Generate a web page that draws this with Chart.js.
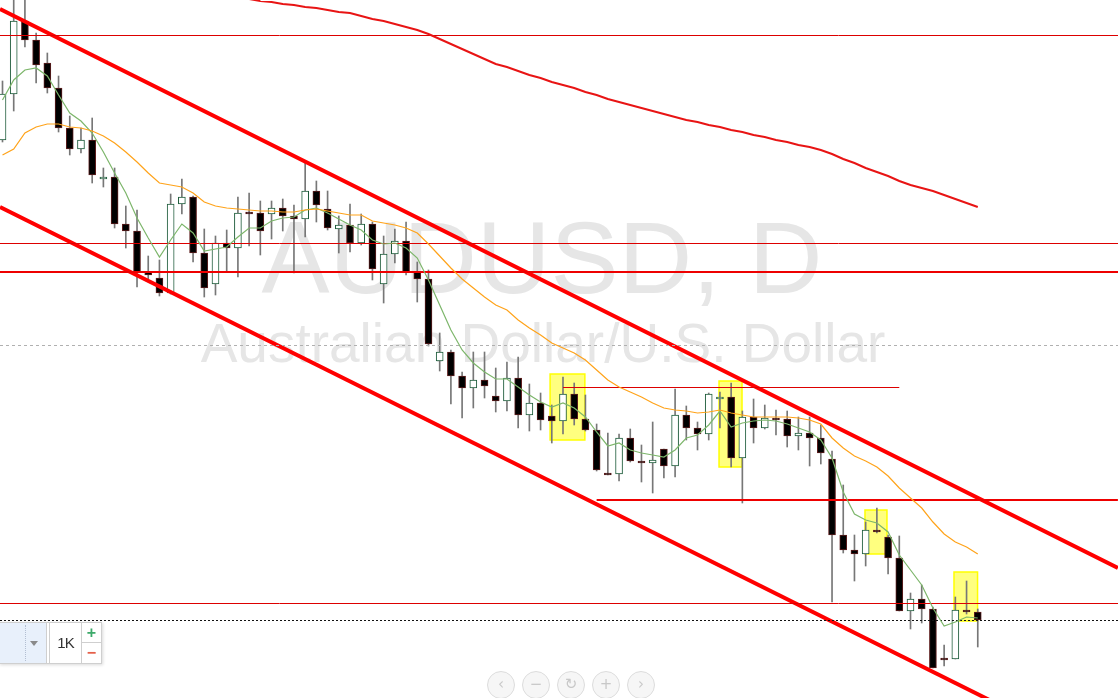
<!DOCTYPE html>
<html>
<head>
<meta charset="utf-8">
<script src="https://cdn.jsdelivr.net/npm/chart.js@4.4.1/dist/chart.umd.min.js"></script>
<style>
  html, body { margin: 0; padding: 0; background: #fff; overflow: hidden; }
  #wrap { position: relative; width: 1118px; height: 698px; overflow: hidden; }
  #box { position: absolute; left: 0; top: 0; width: 1118px; height: 698px; }
  .zoom { position: absolute; left: -1px; top: 622px; height: 40px; display: flex;
          border: 1px solid #cfcfcf; background: #fff; box-shadow: 1px 1px 3px rgba(0,0,0,0.15);
          font-family: "Liberation Sans", Arial, sans-serif; }
  .sel { width: 46px; background: #e8f0fb; border-right: 1px solid #cfcfcf; position: relative; }
  .sel .dots { position: absolute; left: 25px; top: 2px; bottom: 2px; border-left: 1px dotted #b3bfd2; }
  .sel .arrow { position: absolute; left: 30px; top: 18px; width: 0; height: 0;
                border-left: 4px solid transparent; border-right: 4px solid transparent; border-top: 5px solid #8a8a8a; }
  .k { width: 31px; margin-left: 2px; border-left: 1px solid #cfcfcf; text-align: center;
       line-height: 40px; font-size: 15px; color: #333; letter-spacing: -1px; }
  .pm { width: 19px; border-left: 1px solid #cfcfcf; }
  .pm div { height: 19px; line-height: 19px; text-align: center; font-weight: bold; font-size: 16px; }
  .pm .plus { color: #3daa6a; border-bottom: 1px solid #cfcfcf; }
  .pm .minus { color: #e5604a; }
  .nav { position: absolute; left: 487px; top: 671px; display: flex; }
  .nav span { width: 26px; height: 26px; border-radius: 50%; border: 1px solid #dcdcdc; background: #f6f6f6;
              margin-right: 7px; color: #c8c8c8; text-align: center; line-height: 25px; font-size: 15px;
              font-family: "DejaVu Sans", sans-serif; }
</style>
</head>
<body>
<div id="wrap">
  <div id="box"><canvas id="chart"></canvas></div>
  <div class="zoom">
    <div class="sel"><div class="dots"></div><div class="arrow"></div></div>
    <div class="k">1K</div>
    <div class="pm"><div class="plus">+</div><div class="minus">−</div></div>
  </div>
  <div class="nav"><span>‹</span><span>−</span><span>↻</span><span>+</span><span>›</span></div>
</div>
<script>
// AUDUSD daily candles
const openP = [
  0.7660, 0.7706, 0.7779, 0.7760, 0.7737, 0.7712, 0.7672, 0.7651, 0.7660, 0.7621,
  0.7623, 0.7576, 0.7569, 0.7528, 0.7522, 0.7507, 0.7596, 0.7603, 0.7547, 0.7516,
  0.7557, 0.7552, 0.7588, 0.7587, 0.7586, 0.7592, 0.7584, 0.7581, 0.7609, 0.7591,
  0.7571, 0.7575, 0.7557, 0.7576, 0.7516, 0.7546, 0.7559, 0.7528, 0.7521, 0.7439,
  0.7448, 0.7424, 0.7412, 0.7420, 0.7404, 0.7399, 0.7422, 0.7385, 0.7397, 0.7384,
  0.7379, 0.7406, 0.7381, 0.7370, 0.7327, 0.7326, 0.7362, 0.7339, 0.7337, 0.7351,
  0.7334, 0.7385, 0.7372, 0.7366, 0.7401, 0.7403, 0.7342, 0.7383, 0.7372, 0.7382,
  0.7381, 0.7364, 0.7367, 0.7362, 0.7341, 0.7265, 0.7250, 0.7246, 0.7270, 0.7263,
  0.7242, 0.7189, 0.7201, 0.7191, 0.7142, 0.7141, 0.7190, 0.7188
];
const highP = [
  0.7719, 0.7803, 0.7803, 0.7767, 0.7747, 0.7724, 0.7684, 0.7672, 0.7682, 0.7632,
  0.7632, 0.7594, 0.7590, 0.7544, 0.7540, 0.7606, 0.7621, 0.7604, 0.7571, 0.7564,
  0.7570, 0.7603, 0.7607, 0.7599, 0.7599, 0.7601, 0.7595, 0.7638, 0.7619, 0.7609,
  0.7584, 0.7596, 0.7586, 0.7578, 0.7564, 0.7571, 0.7578, 0.7538, 0.7530, 0.7467,
  0.7450, 0.7428, 0.7448, 0.7448, 0.7432, 0.7438, 0.7443, 0.7416, 0.7407, 0.7395,
  0.7423, 0.7417, 0.7405, 0.7376, 0.7367, 0.7366, 0.7371, 0.7355, 0.7378, 0.7351,
  0.7411, 0.7394, 0.7378, 0.7407, 0.7408, 0.7417, 0.7389, 0.7401, 0.7395, 0.7390,
  0.7389, 0.7383, 0.7383, 0.7375, 0.7349, 0.7315, 0.7265, 0.7278, 0.7292, 0.7265,
  0.7264, 0.7207, 0.7215, 0.7193, 0.7155, 0.7203, 0.7219, 0.7191
];
const lowP = [
  0.7658, 0.7689, 0.7753, 0.7717, 0.7707, 0.7668, 0.7645, 0.7647, 0.7617, 0.7613,
  0.7572, 0.7552, 0.7513, 0.7521, 0.7504, 0.7506, 0.7586, 0.7538, 0.7503, 0.7505,
  0.7529, 0.7523, 0.7554, 0.7545, 0.7561, 0.7569, 0.7527, 0.7563, 0.7578, 0.7570,
  0.7547, 0.7548, 0.7555, 0.7520, 0.7497, 0.7537, 0.7525, 0.7498, 0.7454, 0.7429,
  0.7396, 0.7382, 0.7392, 0.7402, 0.7388, 0.7389, 0.7372, 0.7369, 0.7370, 0.7357,
  0.7366, 0.7375, 0.7369, 0.7329, 0.7325, 0.7319, 0.7338, 0.7318, 0.7307, 0.7322,
  0.7323, 0.7360, 0.7350, 0.7360, 0.7372, 0.7333, 0.7297, 0.7357, 0.7371, 0.7365,
  0.7353, 0.7350, 0.7334, 0.7336, 0.7198, 0.7247, 0.7219, 0.7234, 0.7267, 0.7226,
  0.7189, 0.7171, 0.7177, 0.7132, 0.7134, 0.7141, 0.7186, 0.7153
];
const closeP = [
  0.7706, 0.7779, 0.7760, 0.7735, 0.7712, 0.7672, 0.7651, 0.7660, 0.7625, 0.7623,
  0.7576, 0.7569, 0.7528, 0.7525, 0.7507, 0.7596, 0.7603, 0.7547, 0.7512, 0.7557,
  0.7552, 0.7587, 0.7586, 0.7569, 0.7592, 0.7584, 0.7581, 0.7609, 0.7595, 0.7572,
  0.7575, 0.7557, 0.7576, 0.7531, 0.7546, 0.7559, 0.7528, 0.7521, 0.7456, 0.7448,
  0.7424, 0.7412, 0.7420, 0.7414, 0.7399, 0.7422, 0.7385, 0.7397, 0.7380, 0.7379,
  0.7406, 0.7381, 0.7370, 0.7330, 0.7325, 0.7362, 0.7339, 0.7337, 0.7340, 0.7334,
  0.7385, 0.7372, 0.7366, 0.7406, 0.7403, 0.7342, 0.7383, 0.7372, 0.7382, 0.7380,
  0.7364, 0.7367, 0.7362, 0.7347, 0.7265, 0.7250, 0.7246, 0.7270, 0.7268, 0.7242,
  0.7189, 0.7201, 0.7191, 0.7132, 0.7140, 0.7190, 0.7188, 0.7180
];

// moving averages as drawn on the chart
const fastMA = [
  0.7700, 0.7720, 0.7730, 0.7732, 0.7724, 0.7705, 0.7687, 0.7679, 0.7667, 0.7648,
  0.7627, 0.7607, 0.7582, 0.7562, 0.7543, 0.7560, 0.7576, 0.7567, 0.7549, 0.7551,
  0.7553, 0.7563, 0.7572, 0.7572, 0.7579, 0.7582, 0.7583, 0.7590, 0.7592, 0.7587,
  0.7581, 0.7575, 0.7570, 0.7560, 0.7556, 0.7557, 0.7552, 0.7542, 0.7520, 0.7495,
  0.7470, 0.7450, 0.7437, 0.7428, 0.7421, 0.7421, 0.7413, 0.7405, 0.7398, 0.7393,
  0.7397, 0.7392, 0.7383, 0.7368, 0.7354, 0.7357, 0.7350, 0.7347, 0.7345, 0.7343,
  0.7350, 0.7362, 0.7365, 0.7375, 0.7389, 0.7373, 0.7377, 0.7379, 0.7380, 0.7379,
  0.7376, 0.7372, 0.7368, 0.7360, 0.7342, 0.7308, 0.7286, 0.7280, 0.7277, 0.7268,
  0.7245, 0.7230, 0.7215, 0.7192, 0.7174, 0.7178, 0.7183, 0.7182
];
const slowMA = [
  0.7645, 0.7651, 0.7667, 0.7673, 0.7676, 0.7676, 0.7673, 0.7672, 0.7669, 0.7664,
  0.7657, 0.7648, 0.7638, 0.7627, 0.7617, 0.7615, 0.7613, 0.7607, 0.7598, 0.7594,
  0.7592, 0.7591, 0.7590, 0.7589, 0.7589, 0.7588, 0.7588, 0.7590, 0.7591, 0.7589,
  0.7587, 0.7585, 0.7585, 0.7579, 0.7577, 0.7575, 0.7572, 0.7567, 0.7556, 0.7544,
  0.7532, 0.7521, 0.7512, 0.7503, 0.7495, 0.7490, 0.7480, 0.7472, 0.7465, 0.7457,
  0.7452, 0.7447, 0.7440, 0.7430, 0.7420, 0.7413, 0.7408, 0.7403, 0.7397, 0.7392,
  0.7390, 0.7389, 0.7387, 0.7388, 0.7390, 0.7387, 0.7385, 0.7383, 0.7383, 0.7383,
  0.7383, 0.7382, 0.7380, 0.7376, 0.7362, 0.7352, 0.7344, 0.7339, 0.7333, 0.7324,
  0.7312, 0.7302, 0.7292, 0.7278, 0.7266, 0.7258, 0.7253, 0.7246
];
const longMA = [
  null, null, null, null, null, null, null, null, null, null,
  null, null, null, null, null, null, null, null, null, null,
  null, null, 0.7801, 0.7799, 0.7798, 0.7796, 0.7795, 0.7793, 0.7792, 0.7790,
  0.7788, 0.7787, 0.7784, 0.7781, 0.7779, 0.7776, 0.7773, 0.7770, 0.7766, 0.7761,
  0.7756, 0.7751, 0.7746, 0.7741, 0.7736, 0.7733, 0.7729, 0.7725, 0.7722, 0.7718,
  0.7715, 0.7712, 0.7708, 0.7705, 0.7701, 0.7698, 0.7695, 0.7692, 0.7689, 0.7686,
  0.7683, 0.7680, 0.7678, 0.7675, 0.7673, 0.7670, 0.7668, 0.7665, 0.7663, 0.7660,
  0.7658, 0.7655, 0.7653, 0.7650, 0.7646, 0.7641, 0.7637, 0.7632, 0.7628, 0.7624,
  0.7619, 0.7615, 0.7612, 0.7609, 0.7605, 0.7601, 0.7597, 0.7593
];

// drawn objects: channel, levels, highlight boxes [fromBar, toBar, top, bottom]
const upperChannel = [[-0.22, 0.7791], [99.5, 0.7232]];
const lowerChannel = [[-0.22, 0.7593], [99.5, 0.7036]];
const thinLevels = [0.77645, 0.75565, 0.71965];
const boldLevels = [0.7528];
const thinPartLevels = [[50, 80, 0.74125]];
const boldPartLevels = [[53, 99.5, 0.7300]];
const lastPrice = 0.71795;
const midLine = 0.74545;
const highlightBoxes = [
  [48.85, 51.95, 0.7426, 0.7360],
  [63.92, 65.97, 0.7419, 0.7333],
  [76.94, 78.90, 0.7290, 0.7246],
  [84.88, 86.98, 0.7228, 0.7179]
];
const symbolText = 'AUDUSD, D';
const descText = 'Australian Dollar/U.S. Dollar';

const X_MIN = -0.223, X_MAX = 99.51;
const Y_MIN = 0.7102, Y_MAX = 0.7800;

const idx = openP.map((_, i) => i);
const isUp = idx.map(i => closeP[i] > openP[i]);

function seg(a, b) {
  return [{ x: a[0], y: a[1] }, { x: b[0], y: b[1] }];
}
function lineSet(data, color, width, dash) {
  return {
    type: 'line', data, borderColor: color, borderWidth: width,
    borderDash: dash || [], pointRadius: 0, tension: 0, fill: false, order: 0,
  };
}

const levelSets = [
  lineSet(seg([X_MIN, midLine], [X_MAX, midLine]), '#b0b0b0', 1, [3, 3]),
  ...thinLevels.map(p => lineSet(seg([X_MIN, p], [X_MAX, p]), '#dd0000', 1)),
  ...boldLevels.map(p => lineSet(seg([X_MIN, p], [X_MAX, p]), '#ee0000', 2)),
  ...thinPartLevels.map(l => lineSet(seg([l[0], l[2]], [l[1], l[2]]), '#dd0000', 1)),
  ...boldPartLevels.map(l => lineSet(seg([l[0], l[2]], [l[1], l[2]]), '#ee0000', 2)),
  lineSet(seg([X_MIN, lastPrice], [X_MAX, lastPrice]), '#111', 1, [2, 2]),
];

const backdrop = {
  id: 'backdrop',
  beforeDatasetsDraw(chart) {
    const { ctx, scales: { x, y } } = chart;
    ctx.save();
    ctx.fillStyle = '#e6e6e6';
    ctx.textAlign = 'center';
    ctx.textBaseline = 'alphabetic';
    ctx.font = '102px "Liberation Sans", Arial, sans-serif';
    ctx.fillText(symbolText, 542, 293);
    ctx.font = '55px "Liberation Sans", Arial, sans-serif';
    ctx.fillText(descText, 543, 362);

    highlightBoxes.forEach(b => {
      const l = x.getPixelForValue(b[0]);
      const r = x.getPixelForValue(b[1]);
      const t = y.getPixelForValue(b[2]);
      const btm = y.getPixelForValue(b[3]);
      ctx.fillStyle = 'rgba(255, 255, 0, 0.5)';
      ctx.fillRect(l, t, r - l, btm - t);
      ctx.strokeStyle = '#ffff00';
      ctx.lineWidth = 1.5;
      ctx.strokeRect(l, t, r - l, btm - t);
    });
    ctx.restore();
  }
};

new Chart(document.getElementById('chart'), {
  type: 'bar',
  data: {
    datasets: [
      lineSet(idx.map(i => ({ x: i, y: longMA[i] })), '#e81414', 2),
      lineSet(idx.map(i => ({ x: i, y: slowMA[i] })), '#ffa31a', 1.2),
      lineSet(idx.map(i => ({ x: i, y: fastMA[i] })), '#7db66b', 1.2),
      ...levelSets,
      lineSet(seg(...upperChannel), '#ff0000', 4),
      lineSet(seg(...lowerChannel), '#ff0000', 4),
      {
        type: 'bar',
        data: idx.map(i => ({ x: i, y: [openP[i], closeP[i]] })),
        backgroundColor: isUp.map(u => u ? '#ffffff' : '#000000'),
        borderColor: isUp.map(u => u ? '#1d5b3a' : '#5c1d1d'),
        borderWidth: 1,
        borderSkipped: false,
        barThickness: 7,
        grouped: false,
        order: 2,
      },
      {
        type: 'bar',
        data: idx.map(i => ({ x: i, y: [lowP[i], highP[i]] })),
        backgroundColor: '#777777',
        barThickness: 1,
        grouped: false,
        order: 3,
      },
    ],
  },
  options: {
    responsive: true,
    maintainAspectRatio: false,
    animation: false,
    layout: { padding: 0 },
    plugins: { legend: { display: false }, tooltip: { enabled: false } },
    scales: {
      x: { type: 'linear', min: X_MIN, max: X_MAX, offset: false, display: false },
      y: { type: 'linear', min: Y_MIN, max: Y_MAX, display: false },
    },
  },
  plugins: [backdrop],
});
</script>
</body>
</html>
